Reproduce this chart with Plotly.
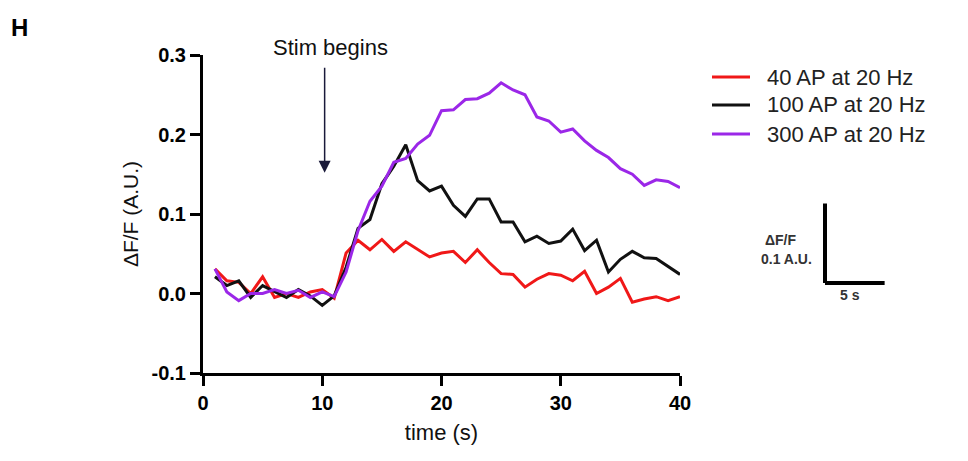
import plotly.graph_objects as go

# Time points (s) and mean dF/F traces for the three stimulus trains
time_s = list(range(1, 41))

ap40 = [0.031, 0.016, 0.014, 0.000, 0.021, -0.005, 0.000, -0.005, 0.002, 0.005,
        -0.006, 0.051, 0.067, 0.055, 0.068, 0.053, 0.065, 0.056, 0.046, 0.051,
        0.053, 0.039, 0.055, 0.039, 0.025, 0.024, 0.008, 0.018, 0.025, 0.023,
        0.016, 0.028, 0.000, 0.008, 0.019, -0.011, -0.007, -0.004, -0.009, -0.004]

ap100 = [0.021, 0.010, 0.016, -0.005, 0.010, 0.002, -0.005, 0.005, -0.003, -0.015,
         -0.003, 0.033, 0.082, 0.093, 0.138, 0.160, 0.187, 0.142, 0.129, 0.135,
         0.111, 0.097, 0.119, 0.119, 0.090, 0.090, 0.065, 0.072, 0.063, 0.066,
         0.081, 0.054, 0.067, 0.027, 0.043, 0.053, 0.045, 0.044, 0.034, 0.024]

ap300 = [0.031, 0.002, -0.009, 0.000, 0.000, 0.005, 0.000, 0.004, -0.005, 0.002,
         -0.004, 0.027, 0.079, 0.116, 0.135, 0.165, 0.170, 0.188, 0.199, 0.230,
         0.231, 0.244, 0.245, 0.252, 0.265, 0.256, 0.250, 0.222, 0.217, 0.203,
         0.207, 0.192, 0.180, 0.171, 0.157, 0.150, 0.136, 0.143, 0.141, 0.133]

series_names = ["40 AP at 20 Hz", "100 AP at 20 Hz", "300 AP at 20 Hz"]
series_values = [ap40, ap100, ap300]
series_colors = ["#f01818", "#111111", "#9b27e8"]

x_ticks = [0, 10, 20, 30, 40]
y_ticks = [-0.1, 0.0, 0.1, 0.2, 0.3]
y_tick_text = ["-0.1", "0.0", "0.1", "0.2", "0.3"]

x_range = [0, 40]
y_range = [-0.1, 0.3]
stim_x = 10.2

FONT = "Arial, Liberation Sans, Helvetica, sans-serif"
W, H = 968, 461
M_L, M_R, M_T, M_B = 203, 288, 55, 88
plot_w = W - M_L - M_R
plot_h = H - M_T - M_B


def px_x(p):
    return (p - M_L) / plot_w


def px_y(p):
    return (H - M_B - p) / plot_h


fig = go.Figure()
for name, vals, col in zip(series_names, series_values, series_colors):
    fig.add_trace(go.Scatter(
        x=time_s, y=vals, mode="lines", name=name,
        line=dict(color=col, width=3), showlegend=False, cliponaxis=False,
    ))

axis_common = dict(
    showgrid=False, zeroline=False, showline=True, linecolor="black", linewidth=3,
    ticks="outside", ticklen=10, tickwidth=3, tickcolor="black",
    tickfont=dict(family=FONT, size=20, color="black", weight="bold"),
    mirror=False,
)

fig.update_xaxes(range=x_range, tickvals=x_ticks,
                 title=dict(text="time (s)", font=dict(family=FONT, size=22, color="#111"), standoff=12),
                 **axis_common)
fig.update_yaxes(range=y_range, tickvals=y_ticks, ticktext=y_tick_text,
                 title=dict(text="ΔF/F (A.U.)", font=dict(family=FONT, size=21, color="#111"), standoff=8),
                 **axis_common)

shapes = []
annotations = []

# Legend drawn as line keys with labels
legend_rows = [77, 105, 134]
for row, name, col in zip(legend_rows, series_names, series_colors):
    shapes.append(dict(type="line", xref="paper", yref="paper",
                       x0=px_x(712), x1=px_x(750), y0=px_y(row), y1=px_y(row),
                       line=dict(color=col, width=3)))
    annotations.append(dict(xref="paper", yref="paper", x=px_x(765), y=px_y(row),
                            text=name, showarrow=False, xanchor="left", yanchor="middle",
                            font=dict(family=FONT, size=22, color="#222")))

# Scale bar: 0.1 dF/F vertical and 5 s horizontal, sized from the axis scales
bar_x0 = px_x(825)
bar_y0 = px_y(283)
bar_h = 0.1 / (y_range[1] - y_range[0])
bar_w = 5 / (x_range[1] - x_range[0])
shapes.append(dict(type="line", xref="paper", yref="paper",
                   x0=bar_x0, x1=bar_x0, y0=bar_y0, y1=bar_y0 + bar_h,
                   line=dict(color="black", width=4)))
shapes.append(dict(type="line", xref="paper", yref="paper",
                   x0=bar_x0, x1=bar_x0 + bar_w, y0=bar_y0, y1=bar_y0,
                   line=dict(color="black", width=4)))
annotations.append(dict(xref="paper", yref="paper", x=px_x(781), y=px_y(240),
                        text="ΔF/F", showarrow=False, xanchor="center", yanchor="middle",
                        font=dict(family=FONT, size=14, color="#333", weight="bold")))
annotations.append(dict(xref="paper", yref="paper", x=px_x(814), y=px_y(259),
                        text="0.1 A.U.", showarrow=False, xanchor="right", yanchor="middle",
                        font=dict(family=FONT, size=14, color="#333", weight="bold")))
annotations.append(dict(xref="paper", yref="paper", x=px_x(850), y=px_y(295),
                        text="5 s", showarrow=False, xanchor="center", yanchor="middle",
                        font=dict(family=FONT, size=14, color="#333", weight="bold")))

# Stimulus onset marker
annotations.append(dict(x=stim_x, y=0.152, ax=stim_x, ay=0.286, xref="x", yref="y",
                        axref="x", ayref="y", text="", showarrow=True,
                        arrowhead=2, arrowsize=1.6, arrowwidth=1.5, arrowcolor="#1a1a3a"))
annotations.append(dict(xref="paper", yref="paper", x=px_x(330), y=px_y(48),
                        text="Stim begins", showarrow=False, xanchor="center", yanchor="middle",
                        font=dict(family=FONT, size=22, color="#111")))

# Panel letter
annotations.append(dict(xref="paper", yref="paper", x=px_x(9), y=px_y(28),
                        text="H", showarrow=False, xanchor="left", yanchor="middle",
                        font=dict(family=FONT, size=24, color="black", weight="bold")))

fig.update_layout(
    width=W, height=H,
    margin=dict(l=M_L, r=M_R, t=M_T, b=M_B),
    paper_bgcolor="white", plot_bgcolor="white",
    shapes=shapes, annotations=annotations,
    showlegend=False,
)

fig.write_html("out.html")
